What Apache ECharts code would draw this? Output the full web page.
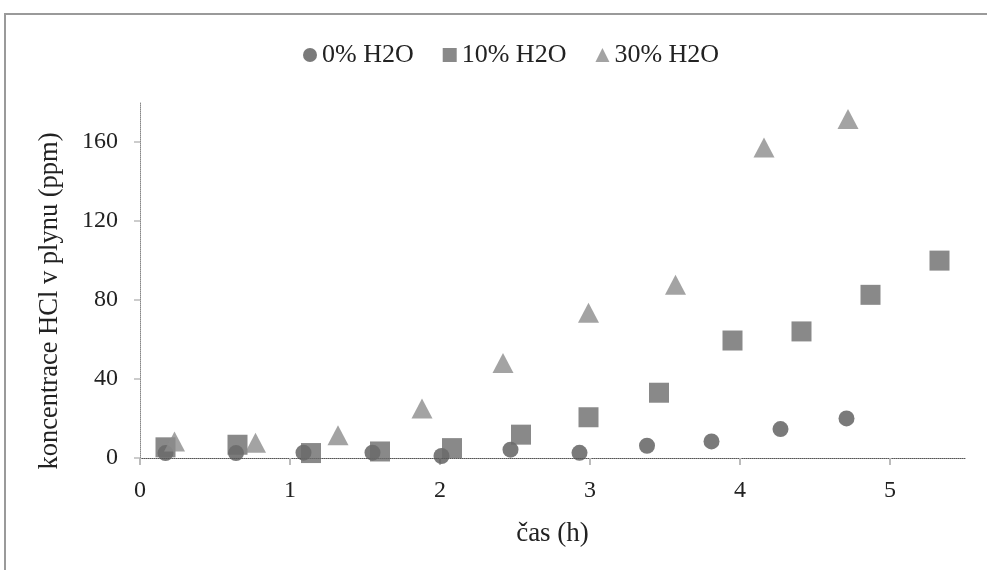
<!DOCTYPE html>
<html>
<head>
<meta charset="utf-8">
<script src="https://cdn.jsdelivr.net/npm/echarts@6/dist/echarts.min.js"></script>
<style>
html,body{margin:0;padding:0;background:#fff;}
#c{width:987px;height:570px;}
</style>
</head>
<body>
<div id="c"></div>
<script>
var seriesNames = ['0% H2O', '10% H2O', '30% H2O'];
var x0 = [0.17, 0.64, 1.09, 1.55, 2.01, 2.47, 2.93, 3.38, 3.81, 4.27, 4.71];
var y0 = [2.5, 2.5, 2.7, 2.7, 1.0, 4.2, 2.6, 6.2, 8.4, 14.6, 20];
var x1 = [0.17, 0.65, 1.14, 1.60, 2.08, 2.54, 2.99, 3.46, 3.95, 4.41, 4.87, 5.33];
var y1 = [5.4, 6.7, 2.5, 3.3, 5.0, 11.8, 20.6, 33, 59.4, 64, 82.5, 99.8];
var x2 = [0.23, 0.77, 1.32, 1.88, 2.42, 2.99, 3.57, 4.16, 4.72];
var y2 = [8.4, 7.7, 11.5, 25, 48, 73.4, 87.6, 157, 171.4];
var xTicks = [0, 1, 2, 3, 4, 5];
var yTicks = [0, 40, 80, 120, 160];

function pairs(xs, ys) { return xs.map(function (x, i) { return [x, ys[i]]; }); }

var FONT = '"Liberation Serif", "Times New Roman", serif';
var chart = echarts.init(document.getElementById('c'), null, {renderer: 'canvas'});
chart.setOption({
  animation: false,
  backgroundColor: '#fff',
  textStyle: {fontFamily: FONT},
  graphic: [
    {type: 'polyline', silent: true, shape: {points: [[5, 575], [5, 14], [990, 14]]},
     style: {stroke: '#9a9a9a', lineWidth: 2, fill: null}}
  ],
  legend: {
    top: 37, left: 298,
    itemGap: 29, itemWidth: 14, itemHeight: 14,
    textStyle: {fontFamily: FONT, fontSize: 26, color: '#222'},
    data: [
      {name: seriesNames[0], icon: 'circle'},
      {name: seriesNames[1], icon: 'rect'},
      {name: seriesNames[2], icon: 'triangle'}
    ]
  },
  grid: {left: 140, right: 22, top: 102, bottom: 112, containLabel: false},
  xAxis: {
    type: 'value', min: 0, max: 5.5, interval: 1,
    name: 'čas (h)', nameLocation: 'middle', nameGap: 62,
    nameTextStyle: {fontFamily: FONT, fontSize: 27, color: '#222'},
    axisLine: {show: true, lineStyle: {color: '#555', type: 'dotted', width: 1}},
    axisTick: {show: true, length: 7, lineStyle: {color: '#bbb', width: 2}},
    splitLine: {show: false},
    axisLabel: {fontFamily: FONT, fontSize: 24, color: '#222', margin: 21,
      showMaxLabel: false,
      formatter: function (v) { return xTicks.indexOf(v) >= 0 ? String(v) : ''; }}
  },
  yAxis: {
    type: 'value', min: 0, max: 180, interval: 40,
    name: 'koncentrace HCl v plynu (ppm)', nameLocation: 'middle', nameGap: 76,
    nameTextStyle: {fontFamily: FONT, fontSize: 26.5, color: '#222', padding: [0, 42, 0, 0]},
    axisLine: {show: true, lineStyle: {color: '#888', type: 'dotted', width: 1}},
    axisTick: {show: true, length: 6, lineStyle: {color: '#ccc', width: 2}},
    splitLine: {show: false},
    axisLabel: {fontFamily: FONT, fontSize: 24, color: '#222', margin: 22,
      showMaxLabel: false,
      formatter: function (v) { return yTicks.indexOf(v) >= 0 ? String(v) : ''; }}
  },
  series: [
    {name: seriesNames[0], type: 'scatter', symbol: 'circle', symbolSize: 16,
     itemStyle: {color: '#595959'}, data: pairs(x0, y0), z: 2},
    {name: seriesNames[1], type: 'scatter', symbol: 'rect', symbolSize: 20,
     itemStyle: {color: '#6b6b6b'}, data: pairs(x1, y1), z: 3},
    {name: seriesNames[2], type: 'scatter', symbol: 'triangle', symbolSize: [21, 20],
     itemStyle: {color: '#8c8c8c'}, data: pairs(x2, y2), z: 4}
  ]
});
</script>
</body>
</html>
